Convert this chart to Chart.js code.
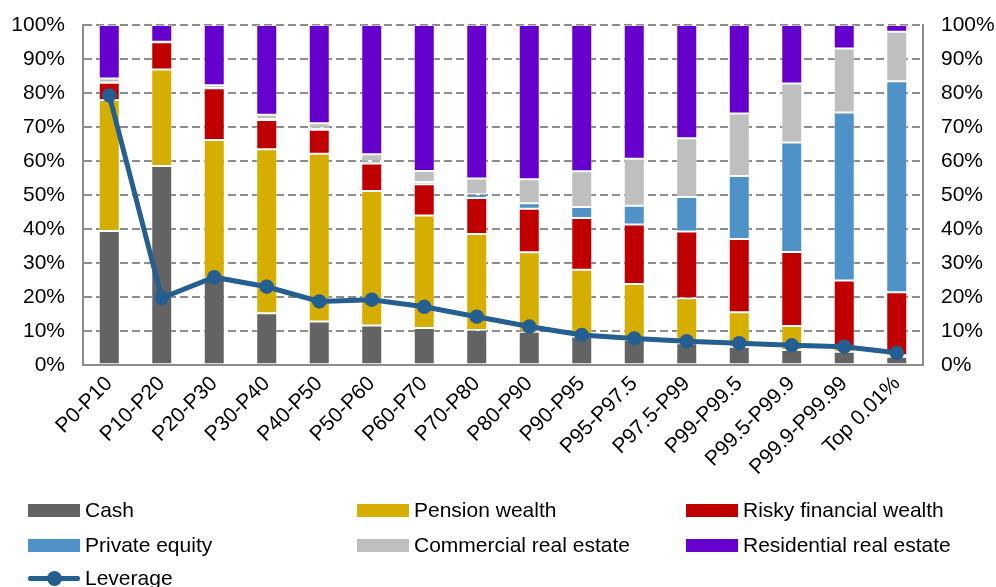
<!DOCTYPE html>
<html>
<head>
<meta charset="utf-8">
<script src="https://cdn.jsdelivr.net/npm/chart.js@4"></script>
<style>
  body { margin: 0; background: #fff; }
  #wrap { position: relative; width: 996px; height: 587px; font-family: "Liberation Sans", Arial, sans-serif; }
  #chartBox { position: absolute; left: 0; top: 0; width: 996px; height: 486px; }
  #legend { position: absolute; left: 0; top: 0; width: 996px; height: 587px; pointer-events: none; }
  .item { position: absolute; display: flex; align-items: center; font-size: 21px; color: #000; white-space: nowrap; }
  .swatch { width: 52px; height: 13px; margin-right: 5px; }
  .lev { position: relative; width: 52px; height: 13px; margin-right: 5px; }
  .lev .ln { position: absolute; left: 0; right: 0; top: 4px; height: 5px; background: #255e91; border-radius: 2px; }
  .lev .pt { position: absolute; left: 19px; top: -1px; width: 15px; height: 15px; border-radius: 50%; background: #255e91; }
</style>
</head>
<body>
<div id="wrap">
  <div id="chartBox"><canvas id="wealthChart"></canvas></div>
  <div id="legend"></div>
</div>
<script>
const groups = ['P0-P10', 'P10-P20', 'P20-P30', 'P30-P40', 'P40-P50', 'P50-P60', 'P60-P70', 'P70-P80',
  'P80-P90', 'P90-P95', 'P95-P97.5', 'P97.5-P99', 'P99-P99.5', 'P99.5-P99.9', 'P99.9-P99.99', 'Top 0.01%'];

// portfolio shares, % of total assets
const cash        = [39.5, 58.6, 25.5, 15.3, 12.9, 11.7, 11.0, 10.4, 9.9, 8.5, 7.5, 6.5, 5.5, 4.5, 4.0, 2.5];
const pension     = [38.5, 28.3, 40.7, 48.2, 49.3, 39.5, 33.0, 28.2, 23.3, 19.6, 16.4, 13.2, 10.1, 7.1, 1.5, 0.5];
const risky       = [5.0, 8.0, 15.2, 8.6, 7.0, 8.1, 9.2, 10.6, 12.8, 15.2, 17.5, 19.6, 21.5, 21.7, 19.4, 18.5];
const privEquity  = [0.1, 0.0, 0.1, 0.3, 0.4, 0.7, 0.7, 1.1, 1.6, 3.2, 5.5, 10.2, 18.5, 32.2, 49.4, 62.0];
const commercial  = [1.2, 0.2, 0.8, 1.2, 1.5, 2.0, 3.2, 4.6, 7.1, 10.5, 13.8, 17.2, 18.4, 17.3, 18.8, 14.5];
const residential = [15.7, 4.9, 17.7, 26.4, 28.9, 38.0, 42.9, 45.1, 45.3, 43.0, 39.3, 33.3, 26.0, 17.2, 6.9, 2.0];
const leverage    = [79.3, 19.8, 25.9, 23.1, 18.8, 19.3, 17.2, 14.3, 11.4, 8.9, 7.9, 7.1, 6.5, 5.9, 5.5, 3.7];

const pctTicks = [0, 10, 20, 30, 40, 50, 60, 70, 80, 90, 100];

const barSeries = [
  { label: 'Cash', data: cash, color: '#636363' },
  { label: 'Pension wealth', data: pension, color: '#d6ae00' },
  { label: 'Risky financial wealth', data: risky, color: '#c00000' },
  { label: 'Private equity', data: privEquity, color: '#4f92c8' },
  { label: 'Commercial real estate', data: commercial, color: '#bfbfbf' },
  { label: 'Residential real estate', data: residential, color: '#6600cc' }
];

const font = { family: '"Liberation Sans", Arial, sans-serif', size: 21 };

const datasets = [{
  type: 'line',
  label: 'Leverage',
  data: leverage,
  yAxisID: 'y1',
  order: 0,
  borderColor: '#255e91',
  backgroundColor: '#255e91',
  borderWidth: 5,
  pointRadius: 6,
  pointBorderWidth: 2.5,
  pointBackgroundColor: '#255e91',
  pointBorderColor: '#255e91',
  tension: 0
}];
barSeries.forEach(s => datasets.push({
  type: 'bar',
  label: s.label,
  data: s.data,
  yAxisID: 'y',
  order: 1,
  backgroundColor: s.color,
  borderColor: 'rgba(255,255,255,0.4)',
  borderWidth: 1,
  borderSkipped: false,
  barPercentage: 0.4,
  categoryPercentage: 1
}));

const pctAxis = (pos) => ({
  type: 'linear',
  position: pos,
  min: 0,
  max: 100,
  afterBuildTicks: axis => { axis.ticks = pctTicks.map(v => ({ value: v })); },
  // fixed width so the plot edges sit at x=83 and x=923
  afterFit: axis => {
    axis.width = pos === 'left' ? 73 : 72;
    axis.paddingTop = 0;
    axis.paddingBottom = 0;
  },
  ticks: { color: '#000', font: font, padding: 18, callback: v => v + '%' },
  border: { display: true, color: '#8c8c8c', width: 2, dash: [8, 4] },
  grid: { display: pos === 'left', color: '#8c8c8c', lineWidth: 2, drawTicks: false }
});

const yLeft = pctAxis('left');
yLeft.stacked = true;
const yRight = pctAxis('right');

new Chart(document.getElementById('wealthChart'), {
  data: { labels: groups, datasets: datasets },
  options: {
    responsive: true,
    maintainAspectRatio: false,
    animation: false,
    layout: { padding: { left: 10, right: 1, top: 25, bottom: 0 } },
    plugins: { legend: { display: false }, tooltip: { enabled: false } },
    scales: {
      x: {
        stacked: true,
        grid: { display: false, drawTicks: false },
        border: { display: true, color: '#8c8c8c', width: 2 },
        ticks: { color: '#000', font: font, autoSkip: false, minRotation: 45, maxRotation: 45, padding: 6 },
        afterFit: axis => { axis.paddingLeft = 0; axis.paddingRight = 0; }
      },
      y: yLeft,
      y1: yRight
    }
  }
});

// legend laid out in three columns under the plot
const legend = document.getElementById('legend');
const cols = [28, 357, 686];
const rows = [510, 545, 578];
barSeries.forEach((s, i) => {
  const el = document.createElement('div');
  el.className = 'item';
  el.style.left = cols[i % 3] + 'px';
  el.style.top = (rows[Math.floor(i / 3)] - 12) + 'px';
  el.innerHTML = '<span class="swatch" style="background:' + s.color + '"></span>' + s.label;
  legend.appendChild(el);
});
const lev = document.createElement('div');
lev.className = 'item';
lev.style.left = cols[0] + 'px';
lev.style.top = (rows[2] - 12) + 'px';
lev.innerHTML = '<span class="lev"><span class="ln"></span><span class="pt"></span></span>Leverage';
legend.appendChild(lev);
</script>
</body>
</html>
